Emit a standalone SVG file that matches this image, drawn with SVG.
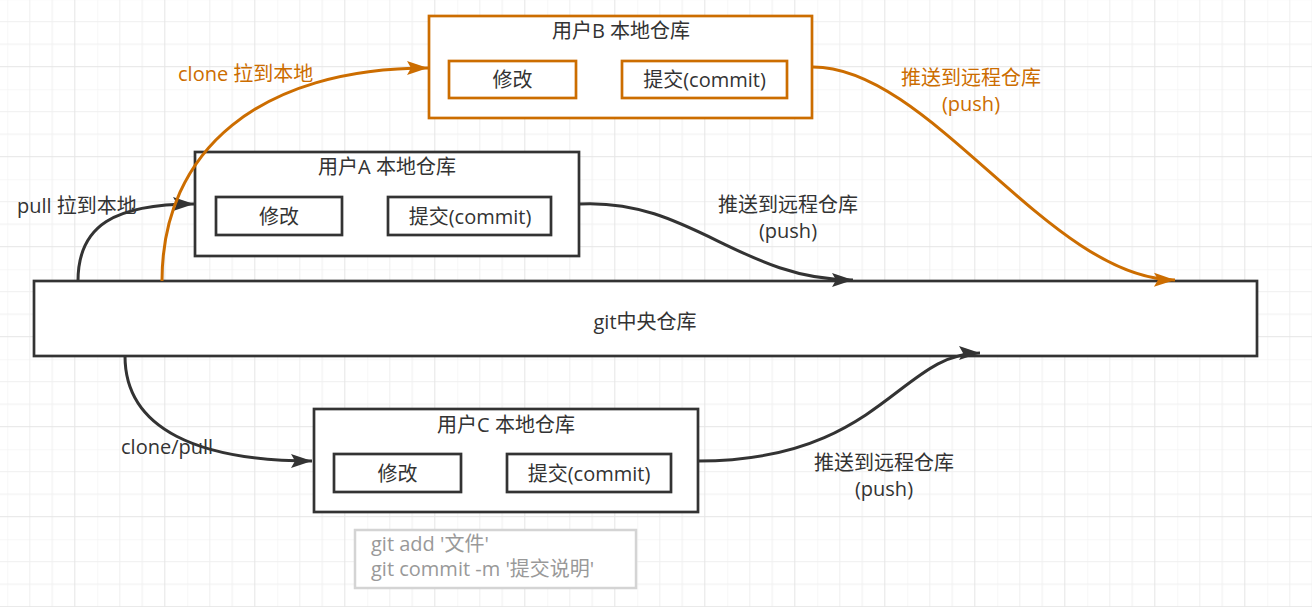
<svg xmlns="http://www.w3.org/2000/svg" width="1312" height="607" viewBox="0 0 1312 607">
<style>
text{font-family:"Open Sans","Noto Sans CJK SC",sans-serif;font-size:20px;fill:#333333;dominant-baseline:central}
.c{text-anchor:middle}
.box{fill:#ffffff;stroke:#333333;stroke-width:2.7}
.obox{fill:#ffffff;stroke:#cc6d00;stroke-width:2.7}
.note{fill:#ffffff;stroke:#d4d4d4;stroke-width:2.5}
.ntext{fill:#999999}
.olabel{fill:#cc6d00}
.edge{fill:none;stroke:#333333;stroke-width:3;marker-end:url(#arrowDark)}
.oedge{fill:none;stroke:#cc6d00;stroke-width:3;marker-end:url(#arrowOrange)}
</style>
<defs>
<pattern id="grid" patternUnits="userSpaceOnUse" x="7.3" y="-0.8" width="90" height="90">
<path d="M0,0V90M22.5,0V90M45,0V90M0,0H90M0,22.5H90M0,45H90" stroke="#efefef" stroke-width="1" fill="none"/>
<path d="M67.5,0V90M0,67.5H90" stroke="#e5e5e5" stroke-width="1" fill="none"/>
</pattern>
<marker id="arrowDark" markerUnits="userSpaceOnUse" markerWidth="24" markerHeight="16" refX="21" refY="7" orient="auto" overflow="visible">
<path d="M0,0 L21,7 L0,14 L4,7 Z" fill="#333333"/>
</marker>
<marker id="arrowOrange" markerUnits="userSpaceOnUse" markerWidth="24" markerHeight="16" refX="21" refY="7" orient="auto" overflow="visible">
<path d="M0,0 L21,7 L0,14 L4,7 Z" fill="#cc6d00"/>
</marker>
</defs>
<rect width="1312" height="607" fill="#ffffff"/>
<rect width="1312" height="607" fill="url(#grid)"/>

<g id="central">
<rect class="box" x="34" y="281" width="1223" height="75"/>
<text class="c" x="645" y="321">git中央仓库</text>
</g>

<g id="userA">
<rect class="box" x="195" y="152" width="384" height="104"/>
<text class="c" x="387" y="166">用户A 本地仓库</text>
<rect class="box" x="216" y="197" width="126" height="38"/>
<text class="c" x="279" y="216">修改</text>
<rect class="box" x="388" y="197" width="163" height="38"/>
<text class="c" x="470" y="216">提交(commit)</text>
</g>

<g id="userB">
<rect class="obox" x="429" y="16" width="383" height="102"/>
<text class="c" x="621" y="30">用户B 本地仓库</text>
<rect class="obox" x="449" y="61" width="127" height="37"/>
<text class="c" x="512.5" y="79.5">修改</text>
<rect class="obox" x="622" y="61" width="165" height="37"/>
<text class="c" x="704.5" y="79.5">提交(commit)</text>
</g>

<g id="userC">
<rect class="box" x="314" y="409" width="384" height="103"/>
<text class="c" x="506" y="424">用户C 本地仓库</text>
<rect class="box" x="334" y="454" width="127" height="38"/>
<text class="c" x="397.5" y="473">修改</text>
<rect class="box" x="507" y="454" width="164" height="38"/>
<text class="c" x="589" y="473">提交(commit)</text>
</g>

<g id="note">
<rect class="note" x="355" y="530" width="281" height="58"/>
<text class="ntext" x="371" y="543">git add '文件'<tspan x="371" dy="25">git commit -m '提交说明'</tspan></text>
</g>

<g id="connectors">
<path class="edge" d="M78,281 C78,225 115,204 194,204"/>
<path class="oedge" d="M162,281 C162,150 260,68 428,68"/>
<path class="edge" d="M579,204 C690,198 740,280 853,280"/>
<path class="oedge" d="M813,67 C930,67 1050,279 1175,280"/>
<path class="edge" d="M125,356 C125,430 200,461 312,461"/>
<path class="edge" d="M698,461 C880,461 900,353 980,353"/>
<text x="17" y="205">pull 拉到本地</text>
<text class="olabel" x="178" y="73">clone 拉到本地</text>
<text class="c" x="788" y="204">推送到远程仓库<tspan x="788" dy="26">(push)</tspan></text>
<text class="c olabel" x="971" y="77">推送到远程仓库<tspan x="971" dy="26">(push)</tspan></text>
<text x="121" y="446">clone/pull</text>
<text class="c" x="884" y="462">推送到远程仓库<tspan x="884" dy="26">(push)</tspan></text>
</g>
</svg>
